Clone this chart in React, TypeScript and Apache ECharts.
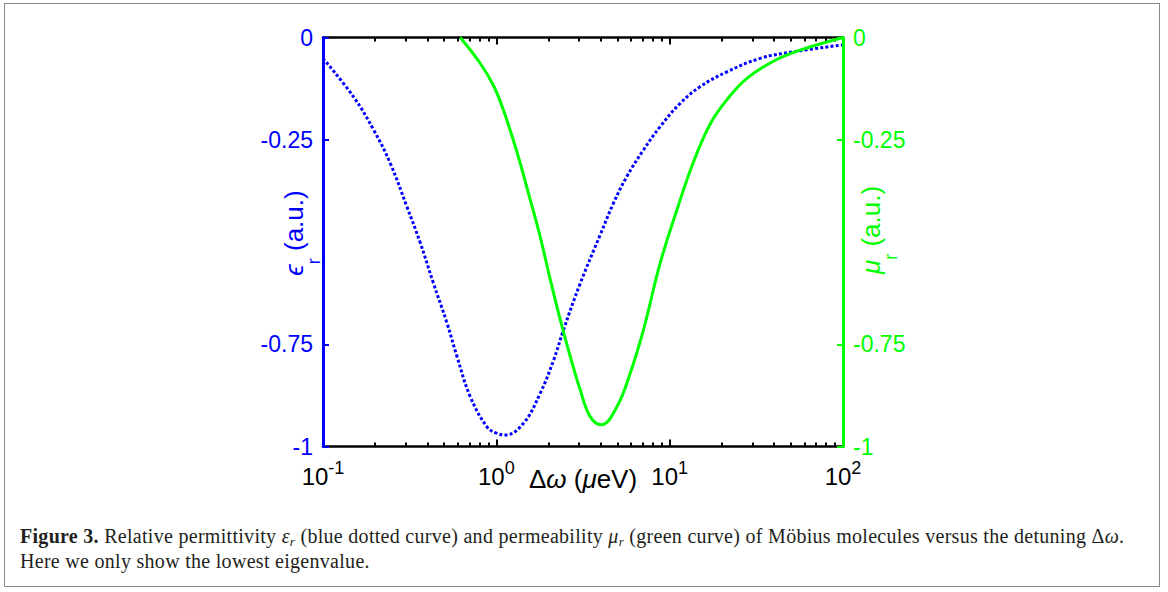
import React, { useEffect, useRef } from "react";
import * as echarts from "echarts";

// Relative permittivity (blue dotted curve)
const epsX = [0.1, 0.15, 0.196, 0.244, 0.305, 0.364, 0.433, 0.519, 0.593, 0.707, 0.883, 1.0, 1.125, 1.435, 1.79, 2.14, 2.44, 3.05, 3.97, 4.74, 5.66, 7.06, 8.81, 11.5, 15.0, 21.4, 33.3, 51.8, 100];
const epsY = [-0.051, -0.145, -0.226, -0.307, -0.414, -0.502, -0.6, -0.698, -0.78, -0.878, -0.952, -0.967, -0.972, -0.943, -0.87, -0.789, -0.715, -0.601, -0.483, -0.405, -0.34, -0.275, -0.218, -0.161, -0.12, -0.084, -0.051, -0.035, -0.018];

// Relative permeability (green curve)
const muX = [0.619, 0.807, 0.964, 1.1, 1.315, 1.57, 1.79, 2.05, 2.34, 2.67, 3.05, 3.48, 4.03, 4.96, 5.92, 7.06, 8.81, 11.0, 13.7, 17.1, 21.4, 27.9, 39.7, 56.6, 100];
const muY = [0, -0.063, -0.118, -0.178, -0.28, -0.397, -0.487, -0.593, -0.691, -0.78, -0.862, -0.927, -0.947, -0.903, -0.821, -0.715, -0.552, -0.422, -0.305, -0.212, -0.152, -0.1, -0.058, -0.031, 0];

// Axis ticks
const xMajorTicks = [0.1, 1, 10, 100];
const xMinorTicks = [0.2, 0.3, 0.4, 0.5, 0.6, 0.7, 0.8, 0.9, 2, 3, 4, 5, 6, 7, 8, 9, 20, 30, 40, 50, 60, 70, 80, 90];
const yTicks = [-1, -0.75, -0.25, 0];

const BLUE = "#0000ff";
const GREEN = "#00ff00";
const FONT = "'Liberation Sans', Arial, sans-serif";

export default function App() {
  const ref = useRef<HTMLDivElement>(null);

  useEffect(() => {
    if (!ref.current) return;
    const chart = echarts.init(ref.current, null, { renderer: "svg" });

    const baseX = {
      type: "log",
      logBase: 10,
      min: 0.1,
      max: 100,
      splitLine: { show: false },
      minorTick: { show: false },
    };

    const majorLabel = {
      customValues: xMajorTicks,
      margin: 12,
      formatter: (v: number) => `{b|10}{s|${Math.round(Math.log10(v))}}`,
      rich: {
        b: { fontSize: 24, fontFamily: FONT, color: "#000", lineHeight: 30, verticalAlign: "bottom" },
        s: { fontSize: 18, fontFamily: FONT, color: "#000", lineHeight: 18, verticalAlign: "top" },
      },
    };

    const nameRich = (color: string) => ({
      e: { fontSize: 26, fontFamily: FONT, color, fontStyle: "italic", lineHeight: 26, verticalAlign: "top" },
      n: { fontSize: 26, fontFamily: FONT, color, lineHeight: 26, verticalAlign: "top" },
      s: { fontSize: 18, fontFamily: FONT, color, lineHeight: 42, verticalAlign: "bottom" },
    });

    const option = {
      animation: false,
      backgroundColor: "#fff",
      grid: { left: 323, right: 325, top: 37.5, bottom: 145.5, containLabel: false },
      xAxis: [
        {
          ...baseX,
          position: "bottom",
          axisLine: { show: true, onZero: false, lineStyle: { color: "#000", width: 2.5 } },
          axisTick: { show: true, inside: true, length: 7, customValues: xMajorTicks, lineStyle: { color: "#000", width: 2 } },
          axisLabel: majorLabel,
          name: "{g|Δ}{gi|ω}{n| (}{gi|μ}{n|eV)}",
          nameLocation: "middle",
          nameGap: 17,
          nameMoveOverlap: false,
          nameTextStyle: {
            rich: {
              n: { fontSize: 26, fontFamily: FONT, color: "#000", lineHeight: 30 },
              g: { fontSize: 26, fontFamily: FONT, color: "#000", lineHeight: 30 },
              gi: { fontSize: 26, fontFamily: FONT, color: "#000", fontStyle: "italic", lineHeight: 30 },
            },
          },
        },
        {
          ...baseX,
          position: "bottom",
          axisLine: { show: false, onZero: false },
          axisTick: { show: true, inside: true, length: 4, customValues: xMinorTicks, lineStyle: { color: "#000", width: 2 } },
          axisLabel: { show: false },
        },
        {
          ...baseX,
          position: "top",
          axisLine: { show: true, onZero: false, lineStyle: { color: "#000", width: 2.5 } },
          axisTick: { show: true, inside: true, length: 7, customValues: xMajorTicks, lineStyle: { color: "#000", width: 2 } },
          axisLabel: { show: false },
        },
        {
          ...baseX,
          position: "top",
          axisLine: { show: false, onZero: false },
          axisTick: { show: true, inside: true, length: 4, customValues: xMinorTicks, lineStyle: { color: "#000", width: 2 } },
          axisLabel: { show: false },
        },
      ],
      yAxis: [
        {
          type: "value",
          position: "left",
          min: -1,
          max: 0,
          splitLine: { show: false },
          axisLine: { show: true, onZero: false, lineStyle: { color: BLUE, width: 3 } },
          axisTick: { show: true, inside: true, length: 6, customValues: yTicks, lineStyle: { color: BLUE, width: 2 } },
          axisLabel: { customValues: yTicks, color: BLUE, fontSize: 23, fontFamily: FONT, margin: 10 },
          name: "{e|ϵ}{s|r}{n| (a.u.)}",
          nameLocation: "middle",
          nameRotate: 90,
          nameGap: 0,
          nameMoveOverlap: false,
          nameTextStyle: { rich: nameRich(BLUE), padding: [0, 0, 0, 18] },
          z: 5,
        },
        {
          type: "value",
          position: "right",
          min: -1,
          max: 0,
          splitLine: { show: false },
          axisLine: { show: true, onZero: false, lineStyle: { color: GREEN, width: 3 } },
          axisTick: { show: true, inside: true, length: 6, customValues: yTicks, lineStyle: { color: GREEN, width: 2 } },
          axisLabel: { customValues: yTicks, color: GREEN, fontSize: 23, fontFamily: FONT, margin: 10 },
          name: "{e|μ}{s|r}{n| (a.u.)}",
          nameLocation: "middle",
          nameRotate: 90,
          nameGap: 15,
          nameMoveOverlap: false,
          nameTextStyle: { rich: nameRich(GREEN), padding: [0, 0, 0, 24] },
          z: 5,
        },
      ],
      series: [
        {
          type: "line",
          name: "epsilon_r",
          xAxisIndex: 0,
          yAxisIndex: 0,
          data: epsX.map((x, i) => [x, epsY[i]]),
          showSymbol: false,
          smooth: 0.4,
          lineStyle: { color: BLUE, width: 3, type: [3, 2.2], cap: "butt" },
          z: 3,
        },
        {
          type: "line",
          name: "mu_r",
          xAxisIndex: 0,
          yAxisIndex: 1,
          data: muX.map((x, i) => [x, muY[i]]),
          showSymbol: false,
          smooth: 0.4,
          lineStyle: { color: GREEN, width: 3 },
          z: 4,
        },
      ],
    };

    chart.setOption(option as any);
    return () => chart.dispose();
  }, []);

  const subStyle: React.CSSProperties = { fontSize: 13, fontStyle: "italic", lineHeight: 0, verticalAlign: "-0.25em" };

  return (
    <div style={{ position: "absolute", left: 0, top: 0, width: 1168, height: 592, background: "#fff" }}>
      <div ref={ref} style={{ position: "absolute", left: 0, top: 0, width: 1168, height: 592 }} />
      <div
        style={{
          position: "absolute",
          left: 4,
          top: 3,
          width: 1156,
          height: 584,
          border: "1.5px solid #8a8a8a",
          boxSizing: "border-box",
          pointerEvents: "none",
        }}
      />
      <div
        style={{
          position: "absolute",
          left: 20,
          top: 524,
          width: 1138,
          fontFamily: "'Liberation Serif', 'Times New Roman', serif",
          fontSize: 20,
          letterSpacing: "0.29px",
          lineHeight: "25px",
          color: "#231f20",
          whiteSpace: "nowrap",
        }}
      >
        <div>
          <b>Figure 3.</b> Relative permittivity <i>ε</i>
          <span style={subStyle}>r</span> (blue dotted curve) and permeability <i>μ</i>
          <span style={subStyle}>r</span> (green curve) of Möbius molecules versus the detuning Δ<i>ω</i>.
        </div>
        <div>Here we only show the lowest eigenvalue.</div>
      </div>
    </div>
  );
}
